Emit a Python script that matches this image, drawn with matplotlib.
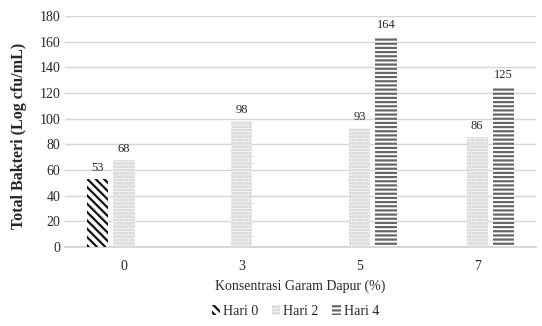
import numpy as np
import matplotlib
matplotlib.use('Agg')
import matplotlib.pyplot as plt
from matplotlib.patches import Patch

plt.rcParams['font.family'] = ['Liberation Serif', 'DejaVu Serif']
plt.rcParams['hatch.linewidth'] = 1.6

categories = ['0', '3', '5', '7']
hari0 = [53, np.nan, np.nan, np.nan]
hari2 = [68, 98, 93, 86]
hari4 = [np.nan, np.nan, 164, 125]
series_names = ['Hari 0', 'Hari 2', 'Hari 4']

fig = plt.figure(figsize=(5.42, 3.26), dpi=100)
ax = fig.add_axes([0.12, 0.242, 0.869, 0.709])

x = np.arange(len(categories))
w = 0.18
off = 0.225
styles = [
    dict(hatch='\\' * 4, edgecolor='#111111'),
    dict(hatch='.....', edgecolor='#c4c4c4'),
    dict(hatch='----', edgecolor='#666666'),
]
txt = '#262626'

for i, (vals, st) in enumerate(zip([hari0, hari2, hari4], styles)):
    pos = x + (i - 1) * off
    ax.bar(pos, vals, width=w, color='white', linewidth=0, zorder=3, **st)
    for px, v in zip(pos, vals):
        if not np.isnan(v):
            ax.text(px, v + 4, f'{v:.0f}', ha='center', va='bottom',
                    fontsize=9, color=txt)

ax.set_xlim(-0.5, 3.5)
ax.set_ylim(0, 180)
ax.set_yticks(np.arange(0, 181, 20))
ax.set_xticks(x)
ax.set_xticklabels(categories)
ax.yaxis.grid(True, color='#d6d6d6', linewidth=1)
ax.set_axisbelow(True)
for s in ['top', 'right', 'left']:
    ax.spines[s].set_visible(False)
ax.spines['bottom'].set_color('#cfcfcf')
ax.spines['bottom'].set_linewidth(1.2)
ax.tick_params(length=0, labelsize=10, colors=txt)
ax.tick_params(axis='x', pad=9)

ax.set_ylabel('Total Bakteri (Log cfu/mL)', fontsize=11.5, fontweight='bold',
              color=txt)
ax.yaxis.set_label_coords(-0.08, 0.48)
ax.set_xlabel('Konsentrasi Garam Dapur (%)', fontsize=10, color=txt, labelpad=5)

handles = [Patch(facecolor='white', linewidth=0, **st) for st in styles]
fig.legend(handles, series_names, loc='center', bbox_to_anchor=(0.545, 0.045),
           ncol=3, frameon=False, fontsize=10, handlelength=0.6, handleheight=0.7,
           handletextpad=0.2, columnspacing=1.0, labelcolor=txt)

fig.savefig('out.png', dpi=100)
